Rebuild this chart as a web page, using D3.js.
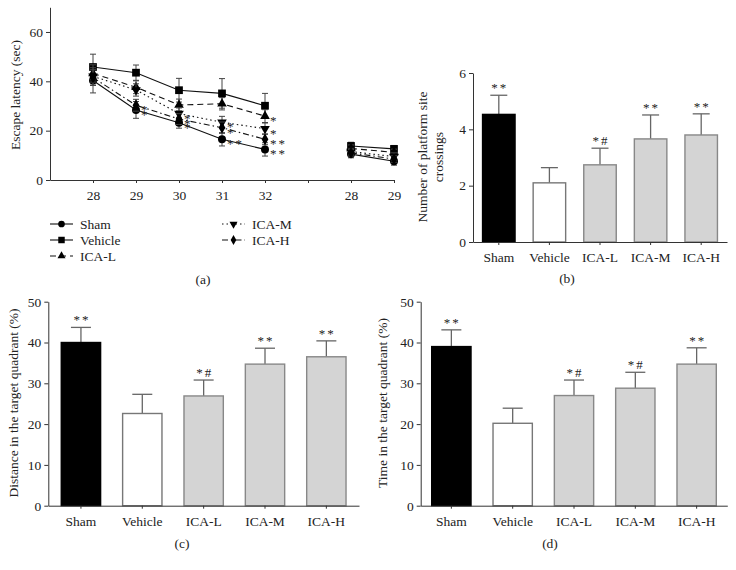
<!DOCTYPE html>
<html>
<head>
<meta charset="utf-8">
<script src="https://cdn.jsdelivr.net/npm/d3@7"></script>
<style>
body{margin:0;background:#fff;}
svg text{font-family:"Liberation Serif","Times New Roman",serif;fill:#222;}
</style>
</head>
<body>
<div id="fig"></div>
<script>
// dati pannello (a) - latenza di fuga
var giorni = ["28","29","30","31","32","","28","29"];
var posGiorni = [0,1,2,3,4,6,7];

var shamLat = [40.3,28.4,23.2,16.5,12.4,10.5,7.6];
var shamErr = [5.0,3.4,2.2,2.7,2.7,1.5,1.6];
var vehLat = [45.8,43.5,36.4,35.1,30.1,13.8,12.6];
var vehErr = [5.2,3.1,4.8,6.0,5.0,1.5,1.4];
var iclLat = [43.2,37.6,30.4,30.9,25.9,12.8,11.2];
var iclErr = [3.5,2.6,2.4,2.5,2.6,1.4,1.3];
var icmLat = [42.0,36.5,26.9,23.4,20.8,11.5,9.5];
var icmErr = [3.5,2.5,2.3,2.4,2.3,1.3,1.5];
var ichLat = [41.5,30.3,24.7,21.2,16.5,11.0,8.5];
var ichErr = [3.2,2.4,2.2,2.3,2.2,1.3,1.3];

var shamSig = ["","*","*","**","**","",""];
var vehSig  = ["","","","","","",""];
var iclSig  = ["","","","","*","",""];
var icmSig  = ["","","*","*","*","",""];
var ichSig  = ["","*","*","*","**","",""];

// dati pannelli a barre
var gruppi = ["Sham","Vehicle","ICA-L","ICA-M","ICA-H"];
var attraversamenti = [4.53,2.10,2.74,3.66,3.80];
var attrErr = [0.68,0.54,0.59,0.85,0.75];
var attrSig = ["**","","*#","**","**"];

var distanza = [40.0,22.6,26.9,34.7,36.5];
var distErr = [3.7,4.7,3.9,3.9,3.9];
var distSig = ["**","","*#","**","**"];

var tempo = [39.0,20.2,27.0,28.8,34.7];
var tempoErr = [4.1,3.7,3.8,3.9,4.0];
var tempoSig = ["**","","*#","*#","**"];

var riempimento = ["#000","#fff","#d4d4d4","#d4d4d4","#d4d4d4"];
var bordo = ["#000","#777","#888","#888","#888"];

var larghezza = 736, altezza = 570;
var fs = "13.5px";
var svg = d3.select("#fig").append("svg")
  .attr("width", larghezza).attr("height", altezza);

function stileAsse(g){
  g.selectAll("path,line").attr("stroke","#333");
  g.selectAll("text").style("font-size",fs).attr("fill","#222");
}

// ---------- PANNELLO (a) ----------
var xA = d3.scaleLinear().domain([-1,7]).range([50,394]);
var yA = d3.scaleLinear().domain([0,70]).range([180,7.3]);

svg.append("g").attr("transform","translate(50,0)")
  .call(d3.axisLeft(yA).tickValues([0,20,40,60]).tickSize(4).tickSizeOuter(0))
  .call(stileAsse);
svg.append("g").attr("transform","translate(0,180)")
  .call(d3.axisBottom(xA).tickValues(d3.range(0,8)).tickSize(3).tickSizeOuter(0)
    .tickFormat(function(i){ return giorni[i]; }))
  .call(function(g){ stileAsse(g); g.selectAll("text").attr("dy","1.05em"); });

svg.append("text").attr("transform","translate(20,95) rotate(-90)")
  .attr("text-anchor","middle").style("font-size",fs).text("Escape latency (sec)");

var serie = [
  {nome:"Sham", v:shamLat, e:shamErr, s:shamSig, dash:null, sym:d3.symbolCircle, size:50, rot:0},
  {nome:"Vehicle", v:vehLat, e:vehErr, s:vehSig, dash:null, sym:d3.symbolSquare, size:60, rot:0},
  {nome:"ICA-L", v:iclLat, e:iclErr, s:iclSig, dash:"6,4", sym:d3.symbolTriangle, size:40, rot:0},
  {nome:"ICA-M", v:icmLat, e:icmErr, s:icmSig, dash:"1.5,3", sym:d3.symbolTriangle, size:40, rot:180},
  {nome:"ICA-H", v:ichLat, e:ichErr, s:ichSig, dash:"6,3,1.5,3", sym:d3.symbolDiamond, size:40, rot:0}
];

var linea = d3.line().x(function(d){ return xA(d.i); }).y(function(d){ return yA(d.v); });

serie.forEach(function(sr){
  var punti = posGiorni.map(function(p,k){ return {i:p, v:sr.v[k], e:sr.e[k], s:sr.s[k]}; });
  var g = svg.append("g");
  // due segmenti: addestramento e probe
  [punti.slice(0,5), punti.slice(5)].forEach(function(seg){
    g.append("path").datum(seg).attr("d",linea)
      .attr("fill","none").attr("stroke","#111").attr("stroke-width",1.1)
      .attr("stroke-dasharray",sr.dash);
  });
  var eb = g.selectAll(".eb").data(punti).enter().append("g");
  eb.append("line").attr("x1",function(d){return xA(d.i);}).attr("x2",function(d){return xA(d.i);})
    .attr("y1",function(d){return yA(d.v-d.e);}).attr("y2",function(d){return yA(d.v+d.e);})
    .attr("stroke","#444").attr("stroke-width",1);
  [-1,1].forEach(function(seg){
    eb.append("line").attr("x1",function(d){return xA(d.i)-3;}).attr("x2",function(d){return xA(d.i)+3;})
      .attr("y1",function(d){return yA(d.v+seg*d.e);}).attr("y2",function(d){return yA(d.v+seg*d.e);})
      .attr("stroke","#444").attr("stroke-width",1);
  });
  g.selectAll(".mk").data(punti).enter().append("path")
    .attr("d", d3.symbol().type(sr.sym).size(sr.size))
    .attr("transform",function(d){ return "translate("+xA(d.i)+","+yA(d.v)+") rotate("+sr.rot+")"; })
    .attr("fill","#000");
  g.selectAll(".sg").data(punti.filter(function(d){return d.s;})).enter().append("text")
    .attr("x",function(d){return xA(d.i)+5;}).attr("y",function(d){return yA(d.v)+9;})
    .style("font-size","13px").style("letter-spacing","2px").attr("fill","#333")
    .text(function(d){return d.s;});
});

// legenda
var posLegenda = [[50,224],[50,240],[50,256],[222,224],[222,240]];
serie.forEach(function(sr,k){
  var p = posLegenda[k];
  var lg = svg.append("g").attr("transform","translate("+p[0]+","+p[1]+")");
  lg.append("line").attr("x1",0).attr("x2",23).attr("stroke","#111").attr("stroke-width",1.1)
    .attr("stroke-dasharray",sr.dash);
  lg.append("path").attr("d",d3.symbol().type(sr.sym).size(sr.size*0.7))
    .attr("transform","translate(11.5,0) rotate("+sr.rot+")").attr("fill","#000");
  lg.append("text").attr("x",30).attr("y",4.5).style("font-size",fs).text(sr.nome);
});
svg.append("text").attr("x",203).attr("y",284).attr("text-anchor","middle")
  .style("font-size",fs).text("(a)");

// ---------- PANNELLI A BARRE ----------
function pannelloBarre(cfg){
  var x = d3.scaleBand().domain(gruppi).range([cfg.x0,cfg.x1])
    .paddingInner(cfg.pi).paddingOuter(cfg.po);
  var y = d3.scaleLinear().domain([0,cfg.max]).range([cfg.y0,cfg.y1]);
  var g = svg.append("g");
  var dati = gruppi.map(function(n,k){ return {n:n, v:cfg.val[k], e:cfg.err[k], s:cfg.sig[k], k:k}; });

  // baffi di errore (solo in alto)
  g.selectAll(".err").data(dati).enter().append("line")
    .attr("x1",function(d){return x(d.n)+x.bandwidth()/2;}).attr("x2",function(d){return x(d.n)+x.bandwidth()/2;})
    .attr("y1",function(d){return y(d.v);}).attr("y2",function(d){return y(d.v+d.e);})
    .attr("stroke","#666").attr("stroke-width",1.3);
  g.selectAll(".cap").data(dati).enter().append("line")
    .attr("x1",function(d){return x(d.n)+x.bandwidth()/2-cfg.cap/2;})
    .attr("x2",function(d){return x(d.n)+x.bandwidth()/2+cfg.cap/2;})
    .attr("y1",function(d){return y(d.v+d.e);}).attr("y2",function(d){return y(d.v+d.e);})
    .attr("stroke","#666").attr("stroke-width",1.3);
  g.selectAll(".bar").data(dati).enter().append("rect")
    .attr("x",function(d){return x(d.n)+0.7;}).attr("width",x.bandwidth()-1.4)
    .attr("y",function(d){return y(d.v);}).attr("height",function(d){return cfg.y0-y(d.v);})
    .attr("fill",function(d){return riempimento[d.k];})
    .attr("stroke",function(d){return bordo[d.k];}).attr("stroke-width",1.4);
  g.selectAll(".sig").data(dati.filter(function(d){return d.s;})).enter().append("text")
    .attr("x",function(d){return x(d.n)+x.bandwidth()/2+1;}).attr("y",function(d){return y(d.v+d.e)-3;})
    .attr("text-anchor","middle").style("font-size","13px").style("letter-spacing","2px").attr("fill","#333")
    .text(function(d){return d.s;});

  svg.append("g").attr("transform","translate("+cfg.x0+",0)")
    .call(d3.axisLeft(y).tickValues(cfg.ticks).tickSize(4).tickSizeOuter(0).tickFormat(d3.format("d")))
    .call(stileAsse);
  svg.append("g").attr("transform","translate(0,"+cfg.y0+")")
    .call(d3.axisBottom(x).tickSize(cfg.tx).tickSizeOuter(0))
    .call(function(gg){ stileAsse(gg); gg.selectAll("text").attr("y",cfg.ly); });

  cfg.label.forEach(function(t,k){
    svg.append("text").attr("transform","translate("+cfg.lx[k]+","+cfg.lcy+") rotate(-90)")
      .attr("text-anchor","middle").style("font-size",fs).text(t);
  });
  svg.append("text").attr("x",cfg.px).attr("y",cfg.py).attr("text-anchor","middle")
    .style("font-size",fs).text(cfg.lettera);
}

pannelloBarre({x0:473, x1:727, y0:242, y1:73, max:6, ticks:[0,2,4,6], pi:0.33, po:0.175,
  val:attraversamenti, err:attrErr, sig:attrSig, cap:17, tx:3, ly:10,
  label:["Number of platform site","crossings"], lx:[427,443], lcy:157,
  px:567, py:283, lettera:"(b)"});

pannelloBarre({x0:48.3, x1:359, y0:505.7, y1:301.7, max:50, ticks:[0,10,20,30,40,50], pi:0.336, po:0.2,
  val:distanza, err:distErr, sig:distSig, cap:20, tx:3, ly:11,
  label:["Distance in the target quadrant (%)"], lx:[18], lcy:403,
  px:182, py:548, lettera:"(c)"});

pannelloBarre({x0:420.7, x1:727.3, y0:505.7, y1:301.7, max:50, ticks:[0,10,20,30,40,50], pi:0.336, po:0.168,
  val:tempo, err:tempoErr, sig:tempoSig, cap:20, tx:3, ly:11,
  label:["Time in the target quadrant (%)"], lx:[387], lcy:403,
  px:550, py:548, lettera:"(d)"});
</script>
</body>
</html>
